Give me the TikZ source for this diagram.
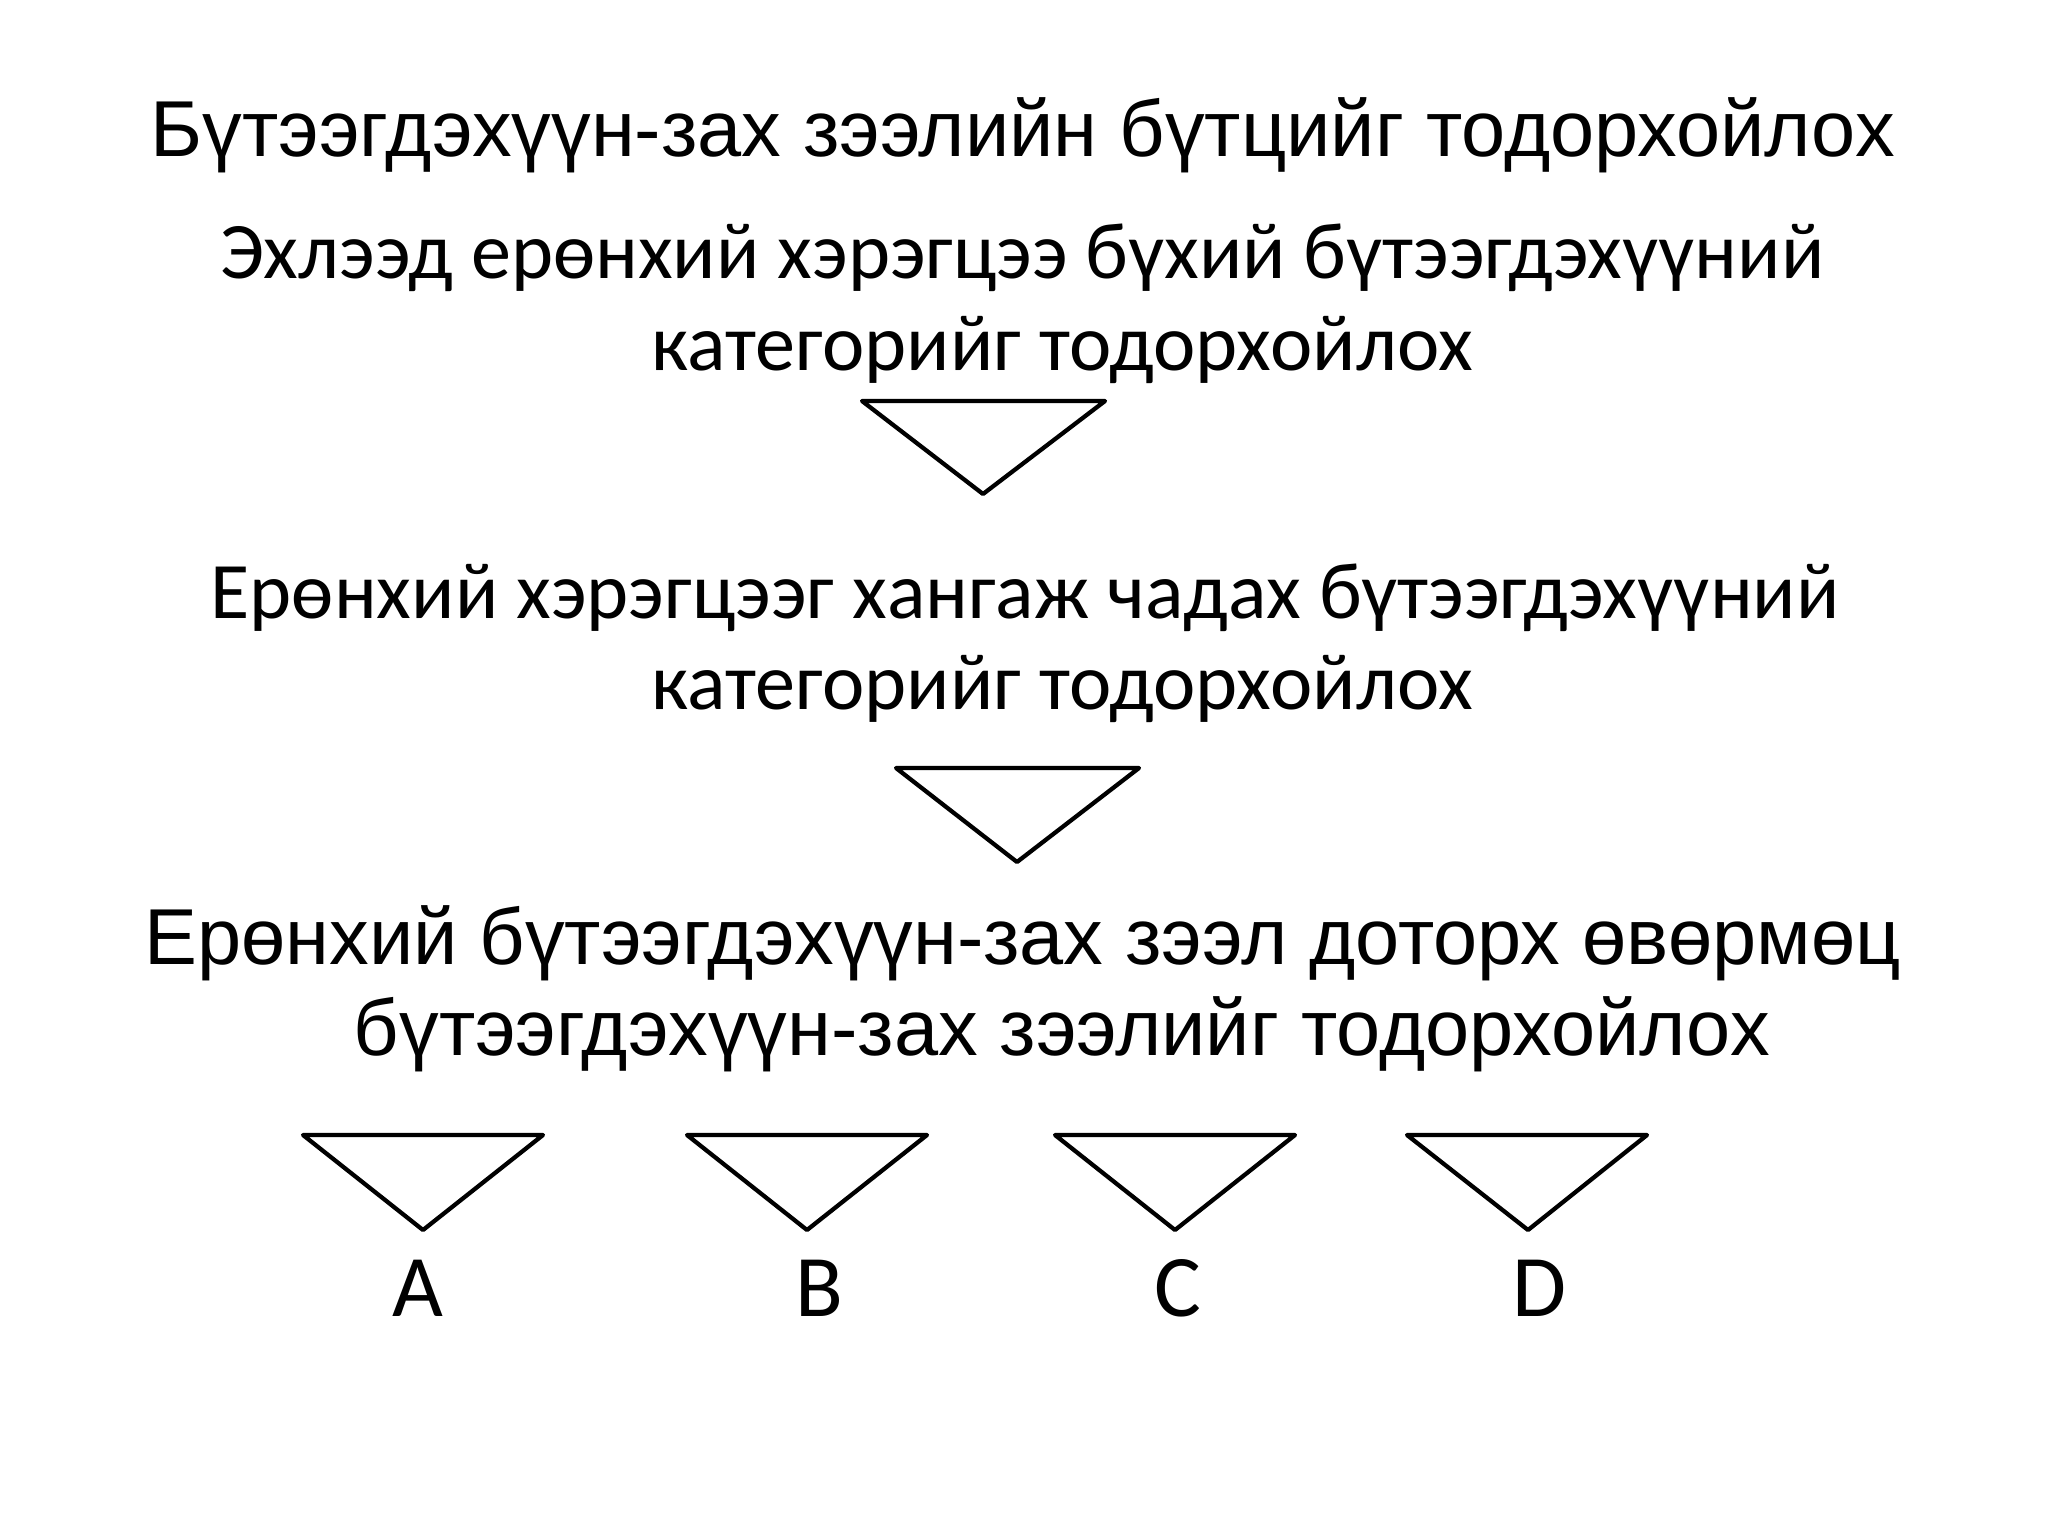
\documentclass[tikz,border=0pt]{standalone}
\usepackage{fontspec}
\setmainfont{Liberation Sans}
\newfontfamily\calibri{Carlito}
\tikzset{
  txt/.style={anchor=base, inner sep=0pt, font=\fontsize{28}{34}\selectfont},
  ctxt/.style={txt, font=\calibri\fontsize{28.3}{34}\selectfont},
  tri/.style={draw=black, line width=1.5pt, fill=white}
}
\begin{document}
\begin{tikzpicture}[x=0.0124023cm, y=-0.0124023cm, line join=round, line cap=round]
\useasboundingbox (0,0) rectangle (2048,1536);
% title
\node[txt] (title) at (1023,157) {Бүтээгдэхүүн-зах зээлийн бүтцийг тодорхойлох};
% first step
\node[ctxt] (s1a) at (1022,278) {Эхлээд ерөнхий хэрэгцээ бүхий бүтээгдэхүүний};
\node[ctxt] (s1b) at (1062,370) {категорийг тодорхойлох};
\draw[tri] (862,401)--(1105,401)--(983,494)--cycle;
% second step
\node[ctxt] (s2a) at (1025,618) {Ерөнхий хэрэгцээг хангаж чадах бүтээгдэхүүний};
\node[ctxt] (s2b) at (1062,709) {категорийг тодорхойлох};
\draw[tri] (896,768)--(1139,768)--(1017,862)--cycle;
% third step
\node[txt] (s3a) at (1023,964) {Ерөнхий бүтээгдэхүүн-зах зээл доторх өвөрмөц};
\node[txt] (s3b) at (1062,1055) {бүтээгдэхүүн-зах зээлийг тодорхойлох};
\foreach \l/\m in {303/423,687/807,1055/1175,1407/1528}
  \draw[tri] (\l,1135)--(\l+240,1135)--(\m,1230)--cycle;
\foreach \t/\x in {A/418,B/819,C/1178,D/1539}
  \node[ctxt, font=\calibri\fontsize{31}{36}\selectfont] (\t) at (\x,1316) {\t};
\end{tikzpicture}
\end{document}
